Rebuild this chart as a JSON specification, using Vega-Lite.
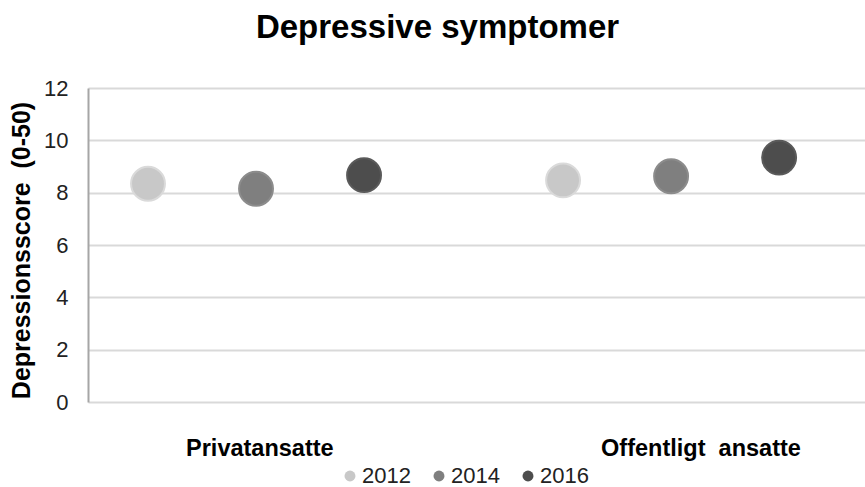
{
  "$schema": "https://vega.github.io/schema/vega-lite/v6.json",
  "width": 777,
  "height": 314,
  "autosize": {"type": "none"},
  "padding": {"left": 88, "top": 88, "right": 0, "bottom": 85},
  "background": "white",
  "title": {
    "text": "Depressive symptomer",
    "font": "Liberation Sans",
    "fontSize": 33,
    "fontWeight": "bold",
    "color": "#000000",
    "anchor": "middle",
    "dx": -39,
    "baseline": "alphabetic",
    "offset": 6
  },
  "data": {
    "values": [
      {"gruppe": "Privatansatte", "år": "2012", "score": 8.34},
      {"gruppe": "Privatansatte", "år": "2014", "score": 8.15},
      {"gruppe": "Privatansatte", "år": "2016", "score": 8.67},
      {"gruppe": "Offentligt \u00a0ansatte", "år": "2012", "score": 8.47},
      {"gruppe": "Offentligt \u00a0ansatte", "år": "2014", "score": 8.63},
      {"gruppe": "Offentligt \u00a0ansatte", "år": "2016", "score": 9.34}
    ]
  },
  "mark": {"type": "point", "filled": true, "shape": "circle", "size": 1150, "opacity": 1, "strokeWidth": 2},
  "encoding": {
    "x": {
      "field": "gruppe",
      "type": "nominal",
      "sort": ["Privatansatte", "Offentligt \u00a0ansatte"],
      "scale": {"paddingInner": 0.2, "paddingOuter": 0.036, "align": 0.067},
      "axis": {
        "title": null,
        "domain": false,
        "ticks": false,
        "grid": false,
        "labelAngle": 0,
        "labelAlign": "left",
        "labelOffset": -70,
        "labelBaseline": "top",
        "labelPadding": 34,
        "labelLimit": 400,
        "labelFont": "Liberation Sans",
        "labelFontSize": 23.5,
        "labelFontWeight": "bold",
        "labelColor": "#000000"
      }
    },
    "xOffset": {
      "field": "år",
      "type": "nominal",
      "scale": {"paddingInner": 0, "paddingOuter": 0.537}
    },
    "y": {
      "field": "score",
      "type": "quantitative",
      "scale": {"domain": [0, 12], "nice": false},
      "axis": {
        "title": "Depressionsscore \u00a0(0-50)",
        "titleFont": "Liberation Sans",
        "titleFontSize": 25,
        "titleFontWeight": "bold",
        "titleColor": "#000000",
        "titlePadding": 9,
        "titleY": 162,
        "values": [0, 2, 4, 6, 8, 10, 12],
        "labelFont": "Liberation Sans",
        "labelFontSize": 22,
        "labelColor": "#222222",
        "labelPadding": 20,
        "ticks": false,
        "domain": true,
        "domainColor": "#a6a6a6",
        "domainWidth": 2,
        "grid": true,
        "gridColor": "#d9d9d9",
        "gridWidth": 2
      }
    },
    "color": {
      "field": "år",
      "type": "nominal",
      "scale": {"domain": ["2012", "2014", "2016"], "range": ["#c8c8c8", "#7f7f7f", "#4d4d4d"]},
      "legend": {
        "title": null,
        "orient": "none",
        "direction": "horizontal",
        "legendX": 251,
        "legendY": 377,
        "symbolType": "circle",
        "symbolSize": 120,
        "symbolStrokeWidth": 0,
        "symbolOpacity": 1,
        "labelFont": "Liberation Sans",
        "labelFontSize": 22,
        "labelColor": "#222222",
        "labelOffset": 1,
        "columnPadding": 17
      }
    },
    "stroke": {
      "field": "år",
      "type": "nominal",
      "scale": {"domain": ["2012", "2014", "2016"], "range": ["#dadada", "#8c8c8c", "#5a5a5a"]},
      "legend": null
    }
  },
  "config": {
    "view": {"stroke": null},
    "font": "Liberation Sans"
  }
}
